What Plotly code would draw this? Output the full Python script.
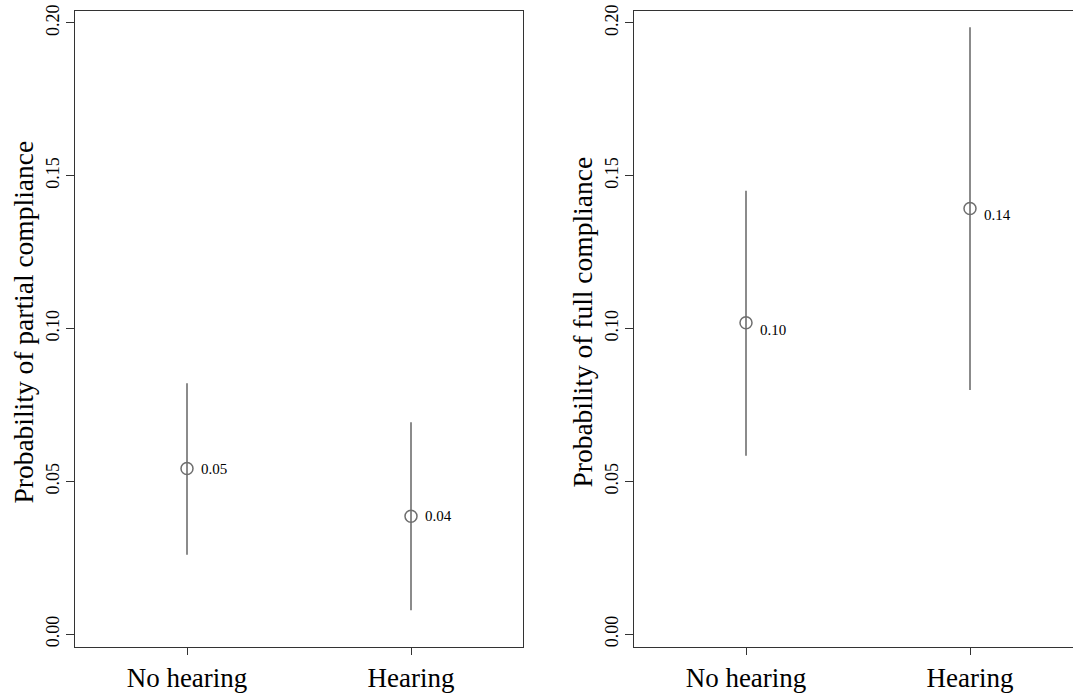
import plotly.graph_objects as go

categories = ["No hearing", "Hearing"]
cat_pos = [1, 2]

partial_est = [0.0542, 0.0386]
partial_lo = [0.0260, 0.0078]
partial_hi = [0.0821, 0.0693]
partial_lab = ["0.05", "0.04"]

full_est = [0.1019, 0.1393]
full_lo = [0.0584, 0.0799]
full_hi = [0.1451, 0.1986]
full_lab = ["0.10", "0.14"]

ytick_vals = [0.0, 0.05, 0.10, 0.15, 0.20]
ytick_text = ["0.00", "0.05", "0.10", "0.15", "0.20"]

W, H = 1073, 693
FONT = "Liberation Serif, Times New Roman, serif"
GRAY = "#6e6e6e"
AX = "#333333"

fig = go.Figure()

def add_panel(est, lo, hi, xa, ya):
    fig.add_trace(go.Scatter(
        x=cat_pos, y=est, mode="markers",
        marker=dict(symbol="circle-open", size=12, color=GRAY, line=dict(width=1.5, color=GRAY)),
        error_y=dict(type="data", symmetric=False,
                     array=[h - e for h, e in zip(hi, est)],
                     arrayminus=[e - l for e, l in zip(est, lo)],
                     width=0, thickness=1.6, color=GRAY),
        xaxis=xa, yaxis=ya, showlegend=False, hoverinfo="skip"))

add_panel(partial_est, partial_lo, partial_hi, "x", "y")
add_panel(full_est, full_lo, full_hi, "x2", "y2")

def xfrac(px):
    return px / W

yrange = [-0.0042, 0.2039]
common_x = dict(tickvals=cat_pos, ticktext=categories, ticks="outside", ticklen=7,
                tickcolor=AX, showline=True, linecolor=AX, linewidth=1, mirror=True,
                showgrid=False, zeroline=False,
                tickfont=dict(family=FONT, size=27, color="black"))
common_y = dict(tickvals=ytick_vals, ticktext=ytick_text, ticks="outside", ticklen=8,
                tickcolor=AX, showline=True, linecolor=AX, linewidth=1,
                showgrid=False, zeroline=False, range=yrange, tickangle=-90,
                tickfont=dict(family=FONT, size=18, color="black"))

fig.update_layout(
    width=W, height=H,
    margin=dict(l=0, r=0, t=11, b=H - 652),
    plot_bgcolor="white", paper_bgcolor="white",
    xaxis=dict(domain=[xfrac(75), xfrac(523)], range=[0.5, 2.5], anchor="y", **common_x),
    yaxis=dict(domain=[0, 1], anchor="x", mirror=True, **common_y),
    xaxis2=dict(domain=[xfrac(634), 1.0], range=[0.5, 0.5 + (W - 634) / 224.0], anchor="y2", **common_x),
    yaxis2=dict(domain=[0, 1], anchor="x2", mirror=False, **common_y),
)

ann = []
for x, y, t in zip(cat_pos, partial_est, partial_lab):
    ann.append(dict(x=x, y=y, xref="x", yref="y", text=t, showarrow=False,
                    xanchor="left", yanchor="middle", xshift=12,
                    font=dict(family=FONT, size=15, color="black")))
for x, y, t in zip(cat_pos, full_est, full_lab):
    ann.append(dict(x=x, y=y, xref="x2", yref="y2", text=t, showarrow=False,
                    xanchor="left", yanchor="middle", xshift=12, yshift=-7,
                    font=dict(family=FONT, size=15, color="black")))

ymid = 1 - ((11 + 652) / 2 + 8) / H
ann.append(dict(x=xfrac(24), y=ymid, xref="paper", yref="paper",
                text="Probability of partial compliance", textangle=-90, showarrow=False,
                xanchor="center", yanchor="middle",
                font=dict(family=FONT, size=27.5, color="black")))
ann.append(dict(x=xfrac(583), y=ymid, xref="paper", yref="paper",
                text="Probability of full compliance", textangle=-90, showarrow=False,
                xanchor="center", yanchor="middle",
                font=dict(family=FONT, size=27.5, color="black")))
fig.update_layout(annotations=ann)

fig.write_html("out.html")
